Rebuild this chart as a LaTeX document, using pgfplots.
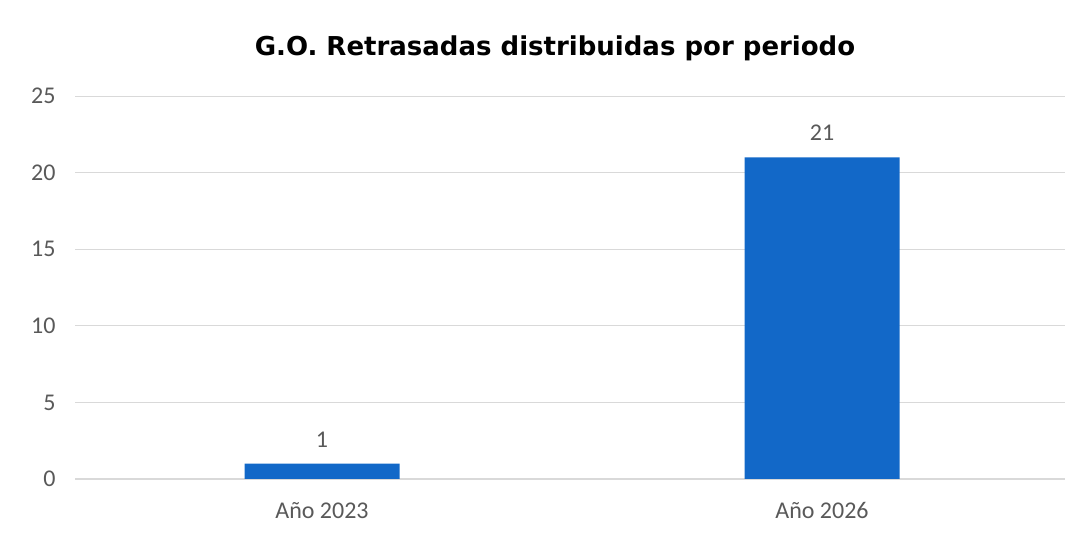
\documentclass[border=0pt]{standalone}
\usepackage{pgfplots}
\pgfplotsset{compat=1.18}
\usepackage{fontspec}
\setmainfont{Carlito}
\newfontfamily\titlefont{DejaVu Sans}
\definecolor{barblue}{RGB}{18,104,200}
\definecolor{txtgray}{RGB}{89,89,89}
\definecolor{gridgray}{RGB}{217,217,217}
\begin{document}
\begin{tikzpicture}[x=1bp,y=1bp]
\useasboundingbox (0,0) rectangle (1090,535);
\begin{axis}[
  at={(75bp,56bp)}, anchor=south west,
  scale only axis,
  width=990bp, height=383bp,
  xmin=-0.494, xmax=1.486,
  ymin=0, ymax=25,
  ytick={0,5,...,25},
  xtick={0,1},
  xticklabels={Año 2023, Año 2026},
  axis line style={draw=none},
  axis x line*=bottom,
  x axis line style={draw=gridgray, line width=1pt},
  major tick length=0pt,
  ymajorgrids,
  grid style={gridgray, line width=0.9pt},
  tick label style={font=\fontsize{24bp}{26bp}\selectfont, text=txtgray},
  /pgf/number format/assume math mode=true,
  yticklabel style={xshift=-16bp},
  xticklabel style={yshift=-20bp},
  ybar, bar width=155bp,
  nodes near coords,
  every node near coord/.append style={font=\fontsize{24bp}{26bp}\selectfont, text=txtgray, yshift=13bp},
  clip=false,
]
\addplot[fill=barblue, draw=none] coordinates {(0,1) (1,21)};
\end{axis}
\node[font=\titlefont\bfseries\fontsize{26bp}{28bp}\selectfont, text=black] at (555,487) {G.O. Retrasadas distribuidas por periodo};
\end{tikzpicture}
\end{document}
